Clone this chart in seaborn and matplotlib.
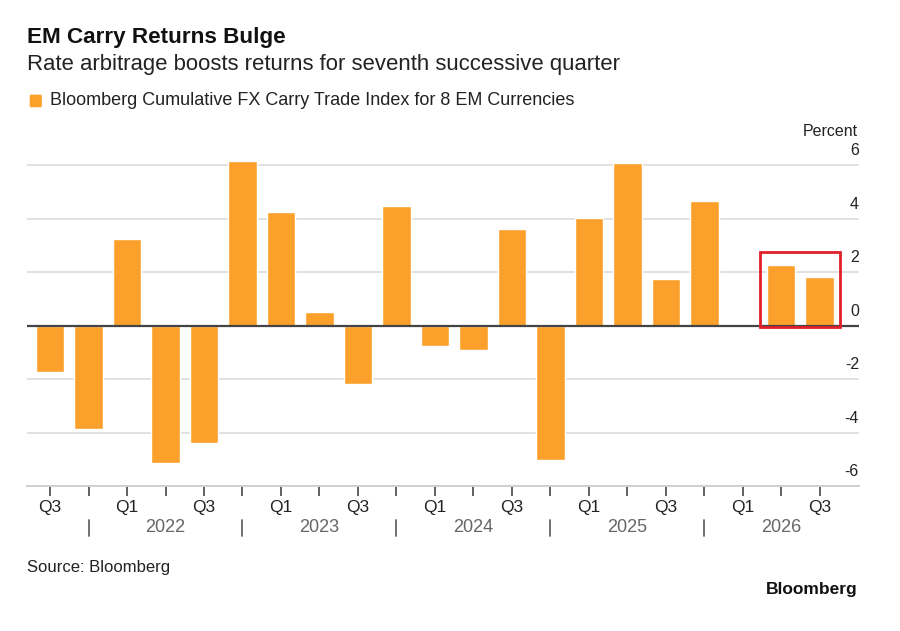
import matplotlib
matplotlib.use("Agg")
import matplotlib.pyplot as plt
import matplotlib.transforms as mtransforms
from matplotlib.patches import Rectangle, FancyBboxPatch
import seaborn as sns

# quarterly returns, %, Q3 2021 .. Q3 2026
periods = ["2021Q3", "2021Q4",
           "2022Q1", "2022Q2", "2022Q3", "2022Q4",
           "2023Q1", "2023Q2", "2023Q3", "2023Q4",
           "2024Q1", "2024Q2", "2024Q3", "2024Q4",
           "2025Q1", "2025Q2", "2025Q3", "2025Q4",
           "2026Q1", "2026Q2", "2026Q3"]
returns = [-1.74, -3.86,
           3.25, -5.13, -4.39, 6.17,
           4.24, 0.49, -2.18, 4.46,
           -0.76, -0.90, 3.63, -5.01,
           4.01, 6.08, 1.73, 4.65,
           0.03, 2.27, 1.80]
y_ticks = [-6, -4, -2, 0, 2, 4, 6]
highlight = ["2026Q2", "2026Q3"]

ORANGE = "#FBA12B"

sns.set_theme(style="white")
plt.rcParams["font.family"] = ["Liberation Sans", "DejaVu Sans"]

fig = plt.figure(figsize=(9, 6.31), dpi=100)
ax = fig.add_axes([0.03, 0.2298, 0.9244, 0.5211])

idx = list(range(len(periods)))
sns.barplot(x=idx, y=returns, color=ORANGE, saturation=1, width=0.74, ax=ax, zorder=3)

ax.set_xlim(-0.6, 21.02)
ax.set_ylim(-6, 6.3)
ax.set_yticks(y_ticks)
ax.set_yticklabels([])
ax.tick_params(axis="y", length=0)
ax.yaxis.grid(True, color="#dcdcdc", lw=1.2, zorder=0)
ax.axhline(0, color="#444444", lw=1.6, zorder=4)
for s in ["top", "left", "right"]:
    ax.spines[s].set_visible(False)
ax.spines["bottom"].set_color("#cfcfcf")
ax.spines["bottom"].set_linewidth(1.4)
ax.set_xlabel("")
ax.set_ylabel("")

# y labels sit above gridlines on the right
ytrans = mtransforms.offset_copy(ax.get_yaxis_transform(), fig=fig, y=5, units="points")
for v in y_ticks:
    ax.text(1.0, v, str(v), transform=ytrans, ha="right", va="bottom",
            fontsize=11.5, color="#222222")
fig.text(0.953, 0.792, "Percent", ha="right", va="center", fontsize=11.5, color="#222222")

# quarter ticks and labels
quarters = [p[4:] for p in periods]
years = [p[:4] for p in periods]
ax.set_xticks(idx)
ax.set_xticklabels([q if q in ("Q1", "Q3") else "" for q in quarters],
                   fontsize=12.5, color="#222222")
ax.tick_params(axis="x", bottom=True, length=7, width=1.3, color="#555555", pad=3)
for t, q in zip(ax.xaxis.get_major_ticks(), quarters):
    if q == "Q2":
        t.tick1line.set_color("#d8d8d8")

# year groups: separators at Q4, label at Q2
xtrans = ax.get_xaxis_transform()
for i, (q, y) in enumerate(zip(quarters, years)):
    if q == "Q4":
        ax.plot([i, i], [-0.103, -0.152], transform=xtrans, color="#666666",
                lw=1.3, clip_on=False)
    if q == "Q2":
        ax.text(i, -0.126, y, transform=xtrans, ha="center", va="center",
                fontsize=13, color="#666666")

# red highlight box around latest quarters
hl = [periods.index(p) for p in highlight]
top = max(returns[i] for i in hl)
ax.add_patch(Rectangle((hl[0] - 0.55, -0.05), hl[-1] - hl[0] + 1.07, top + 0.55,
                       fill=False, edgecolor="#E0202A", lw=2, zorder=5, clip_on=False))

# titles and legend
fig.text(0.03, 0.940, "EM Carry Returns Bulge", fontsize=16.2, fontweight="bold",
         va="center", ha="left", color="#111111")
fig.text(0.03, 0.898, "Rate arbitrage boosts returns for seventh successive quarter",
         fontsize=15.9, va="center", ha="left", color="#222222")
fig.patches.append(FancyBboxPatch((0.033, 0.830), 0.0135, 0.02, transform=fig.transFigure,
                                  boxstyle="round,pad=0,rounding_size=0.002",
                                  facecolor=ORANGE, edgecolor="none", figure=fig))
fig.text(0.0556, 0.840, "Bloomberg Cumulative FX Carry Trade Index for 8 EM Currencies",
         fontsize=13, va="center", ha="left", color="#222222")

fig.text(0.03, 0.1014, "Source: Bloomberg", fontsize=12, va="center", ha="left",
         color="#222222")
fig.text(0.953, 0.065, "Bloomberg", fontsize=12.5, fontweight="bold", va="center",
         ha="right", color="#111111")

fig.savefig("out.png", dpi=100)
